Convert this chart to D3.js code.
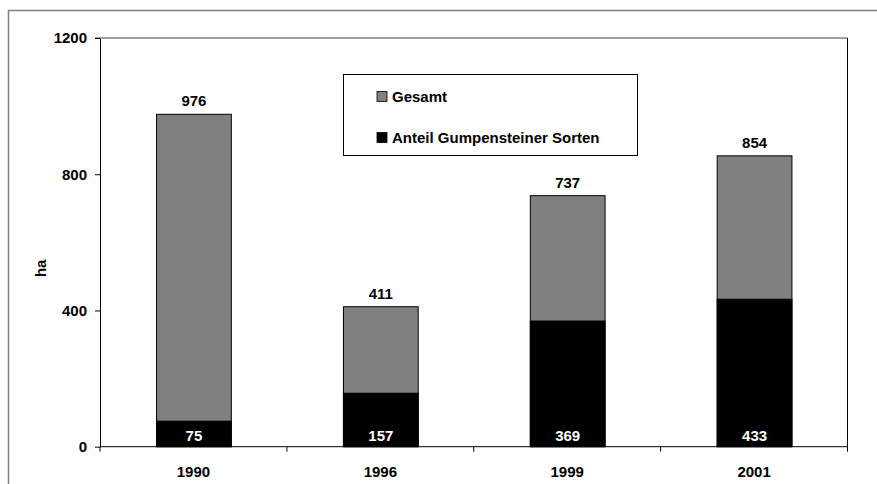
<!DOCTYPE html>
<html>
<head>
<meta charset="utf-8">
<script src="https://cdn.jsdelivr.net/npm/d3@7"></script>
<style>
  body { margin: 0; background: #fff; }
  svg text { font-family: "Liberation Sans", Arial, sans-serif; font-weight: bold; }
</style>
</head>
<body>
<svg id="chart" width="877" height="484"></svg>
<script>
// Anbaufläche (ha) je Jahr
const years = ["1990", "1996", "1999", "2001"];
const totalArea = [976, 411, 737, 854];
const gumpensteinerArea = [75, 157, 369, 433];
const yTicks = [0, 400, 800, 1200];
const seriesNames = ["Gesamt", "Anteil Gumpensteiner Sorten"];
const seriesColors = ["#808080", "#000000"];

const svg = d3.select("#chart");
const W = 877, H = 484;
const FS = 15;
const plot = { left: 100, right: 847.5, top: 38, bottom: 446.7 };

// Outer chart frame
svg.append("rect")
  .attr("x", 8.5).attr("y", 10.5)
  .attr("width", W + 20).attr("height", H + 20)
  .attr("fill", "none").attr("stroke", "#808080").attr("stroke-width", 1.5);

const x = d3.scaleBand().domain(years).range([plot.left, plot.right]).paddingInner(0.6).paddingOuter(0.3);
const xOuter = d3.scaleBand().domain(years).range([plot.left, plot.right]);
const y = d3.scaleLinear().domain([0, 1200]).range([plot.bottom, plot.top]);

// Plot area frame: top and right edges
svg.append("line")
  .attr("x1", plot.left - 5).attr("x2", plot.right)
  .attr("y1", y(1200)).attr("y2", y(1200))
  .attr("stroke", "#808080").attr("stroke-width", 1.5);
svg.append("line")
  .attr("x1", plot.right).attr("x2", plot.right)
  .attr("y1", y(1200)).attr("y2", plot.bottom)
  .attr("stroke", "#000").attr("stroke-width", 1);

// Bars: total (grey) and Gumpensteiner share (black)
const data = years.map((yr, i) => ({ yr, total: totalArea[i], part: gumpensteinerArea[i] }));

svg.append("g").selectAll("rect").data(data).join("rect")
  .attr("x", d => x(d.yr) + 0.5)
  .attr("y", d => y(d.total))
  .attr("width", x.bandwidth())
  .attr("height", d => y(0) - y(d.total))
  .attr("fill", seriesColors[0])
  .attr("stroke", "#000").attr("stroke-width", 1);

svg.append("g").selectAll("rect").data(data).join("rect")
  .attr("x", d => x(d.yr) + 0.5)
  .attr("y", d => y(d.part))
  .attr("width", x.bandwidth())
  .attr("height", d => y(0) - y(d.part))
  .attr("fill", seriesColors[1])
  .attr("stroke", "#000").attr("stroke-width", 1);

// Value labels
svg.append("g").selectAll("text").data(data).join("text")
  .attr("x", d => x(d.yr) + x.bandwidth() / 2 + 0.5)
  .attr("y", d => y(d.total) - 8)
  .attr("text-anchor", "middle")
  .attr("font-size", FS)
  .attr("fill", "#000")
  .text(d => d.total);

svg.append("g").selectAll("text").data(data).join("text")
  .attr("x", d => x(d.yr) + x.bandwidth() / 2 + 0.5)
  .attr("y", y(0) - 6)
  .attr("text-anchor", "middle")
  .attr("font-size", FS)
  .attr("fill", "#fff")
  .text(d => d.part);

// Y axis
const yAxis = svg.append("g")
  .attr("transform", `translate(${plot.left},0)`)
  .call(d3.axisLeft(y).tickValues(yTicks).tickFormat(d3.format("d"))
    .tickSize(5).tickSizeOuter(0).tickPadding(8));
yAxis.select(".domain").attr("stroke", "#000");
yAxis.selectAll(".tick line").attr("stroke", "#000");
yAxis.selectAll(".tick text")
  .attr("font-size", FS).attr("font-family", "Liberation Sans, Arial, sans-serif")
  .attr("font-weight", "bold").attr("fill", "#000");

// X axis with tick marks at category boundaries
const xAxisG = svg.append("g").attr("transform", `translate(0,${plot.bottom})`);
xAxisG.append("line")
  .attr("x1", plot.left).attr("x2", plot.right)
  .attr("stroke", "#000").attr("stroke-width", 1);
const boundaries = years.map(yr => xOuter(yr)).concat([plot.right]);
xAxisG.selectAll("line.tick").data(boundaries).join("line")
  .attr("class", "tick")
  .attr("x1", d => d).attr("x2", d => d)
  .attr("y1", 0).attr("y2", 5)
  .attr("stroke", "#000");
xAxisG.selectAll("text").data(years).join("text")
  .attr("x", d => xOuter(d) + xOuter.bandwidth() / 2)
  .attr("y", 30.5)
  .attr("text-anchor", "middle")
  .attr("font-size", FS)
  .attr("fill", "#000")
  .text(d => d);

// Y axis title
svg.append("text")
  .attr("transform", `translate(46,${(plot.top + plot.bottom) / 2 + 26}) rotate(-90)`)
  .attr("text-anchor", "middle")
  .attr("font-size", FS)
  .attr("fill", "#000")
  .text("ha");

// Legend
const legend = svg.append("g").attr("transform", "translate(343.5,74.5)");
legend.append("rect")
  .attr("width", 294).attr("height", 81)
  .attr("fill", "#fff").attr("stroke", "#000").attr("stroke-width", 1);
const rows = [22, 63];
seriesNames.forEach((name, i) => {
  legend.append("rect")
    .attr("x", 33.5).attr("y", rows[i] - 5)
    .attr("width", 10).attr("height", 10)
    .attr("fill", seriesColors[i]).attr("stroke", "#000").attr("stroke-width", 0.8);
  legend.append("text")
    .attr("x", 48.5).attr("y", rows[i] + 5.5)
    .attr("font-size", FS)
    .attr("fill", "#000")
    .text(name);
});
</script>
</body>
</html>
